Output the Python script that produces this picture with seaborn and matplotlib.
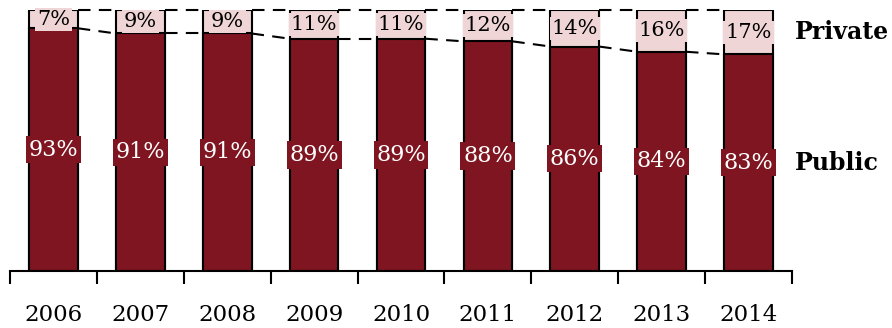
import matplotlib
matplotlib.use("Agg")
import matplotlib.pyplot as plt
import seaborn as sns
import pandas as pd
import numpy as np

years = ["2006", "2007", "2008", "2009", "2010", "2011", "2012", "2013", "2014"]
public = [93, 91, 91, 89, 89, 88, 86, 84, 83]
private = [7, 9, 9, 11, 11, 12, 14, 16, 17]

PUB = "#7F1520"
PRI = "#EFD5D5"

sns.set_style("white")
plt.rcParams["font.family"] = ["DejaVu Serif"]
plt.rcParams["text.color"] = "black"
plt.rcParams["xtick.color"] = "black"

df = pd.DataFrame({"year": years, "public": public, "private": private})
df["total"] = df["public"] + df["private"]

fig = plt.figure(figsize=(8.92, 3.28), dpi=100)
ax = fig.add_axes([10 / 892, 1 - 271 / 328, 782 / 892, 261 / 328])

W = 0.56
sns.barplot(data=df, x="year", y="total", color=PRI, width=W, saturation=1,
            edgecolor="black", linewidth=1.5, ax=ax)
sns.barplot(data=df, x="year", y="public", color=PUB, width=W, saturation=1,
            edgecolor="black", linewidth=1.5, ax=ax)

n = len(years)
for i in range(n - 1):
    ax.plot([i + W / 2, i + 1 - W / 2], [df["total"][i], df["total"][i + 1]],
            color="black", lw=1.5, ls=(0, (6, 4)), clip_on=False)
    ax.plot([i + W / 2, i + 1 - W / 2], [public[i], public[i + 1]],
            color="black", lw=1.5, ls=(0, (6, 4)), clip_on=False)

for i in range(n):
    ax.text(i, public[i] / 2, f"{public[i]}%", ha="center", va="center",
            color="white", fontsize=16,
            bbox=dict(boxstyle="square,pad=0.12", fc=PUB, ec="none"))
    ax.text(i, public[i] + private[i] / 2, f"{private[i]}%", ha="center",
            va="center", color="black", fontsize=15,
            bbox=dict(boxstyle="square,pad=0.1", fc=PRI, ec="none"))

ax.set_xlim(-0.5, n - 0.5)
ax.set_ylim(0, 100)
ax.set_xlabel("")
ax.set_ylabel("")
ax.set_yticks([])
for s in ["top", "right", "left"]:
    ax.spines[s].set_visible(False)
ax.spines["bottom"].set_linewidth(1.5)
ax.spines["bottom"].set_color("black")

ax.set_xticks(np.arange(n))
ax.set_xticklabels(years, fontsize=16.5, color="black")
ax.tick_params(axis="x", which="major", length=0, pad=24)
ax.set_xticks(np.arange(n + 1) - 0.5, minor=True)
ax.tick_params(axis="x", which="minor", length=9, width=1.5, color="black",
               direction="out", bottom=True)

ax.text(n - 0.5 + 0.03, 100 - private[-1] / 2, "Private", fontsize=17,
        fontweight="bold", ha="left", va="center", clip_on=False)
ax.text(n - 0.5 + 0.03, public[-1] / 2, "Public", fontsize=17,
        fontweight="bold", ha="left", va="center", clip_on=False)

fig.savefig("out.png", dpi=100)
